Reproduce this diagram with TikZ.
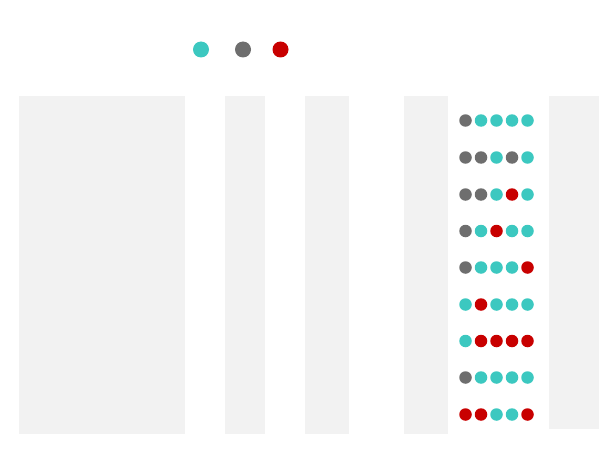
\documentclass[tikz,border=0pt]{standalone}
\definecolor{cteal}{HTML}{3CC8C0}
\definecolor{cgray}{HTML}{6E6E6E}
\definecolor{cred}{HTML}{C80000}
\definecolor{cpanel}{HTML}{F2F2F2}
\tikzset{
  panel/.style={fill=cpanel,draw=none},
  dotT/.style={circle,fill=cteal,draw=none,minimum size=12.5pt,inner sep=0pt},
  dotG/.style={circle,fill=cgray,draw=none,minimum size=12.5pt,inner sep=0pt},
  dotR/.style={circle,fill=cred,draw=none,minimum size=12.5pt,inner sep=0pt},
  legT/.style={dotT,minimum size=16pt},
  legG/.style={dotG,minimum size=16pt},
  legR/.style={dotR,minimum size=16pt}
}
\begin{document}
\begin{tikzpicture}[x=1pt,y=-1pt]
\useasboundingbox (0,0) rectangle (600,452);
% panels
\fill[panel] (19,96) rectangle (185,434);
\fill[panel] (225,96) rectangle (265,434);
\fill[panel] (305,96) rectangle (349,434);
\fill[panel] (404,96) rectangle (448,434);
\fill[panel] (549,96) rectangle (599,429);
% legend
\node[legT] (lt) at (201,49.5) {};
\node[legG] (lg) at (243,49.5) {};
\node[legR] (lr) at (280.5,49.5) {};
% dot matrix
\foreach \row/\y/\pat in {1/120.5/{G,T,T,T,T},2/157.5/{G,G,T,G,T},3/194.5/{G,G,T,R,T},
  4/231/{G,T,R,T,T},5/267.5/{G,T,T,T,R},6/304.5/{T,R,T,T,T},7/341/{T,R,R,R,R},
  8/377.5/{G,T,T,T,T},9/414.5/{R,R,T,T,R}}{
  \foreach \c [count=\i] in \pat {
    \pgfmathsetmacro{\xx}{465.5+15.5*(\i-1)}
    \node[dot\c] (d\row-\i) at (\xx,\y) {};
  }
}
\end{tikzpicture}
\end{document}
